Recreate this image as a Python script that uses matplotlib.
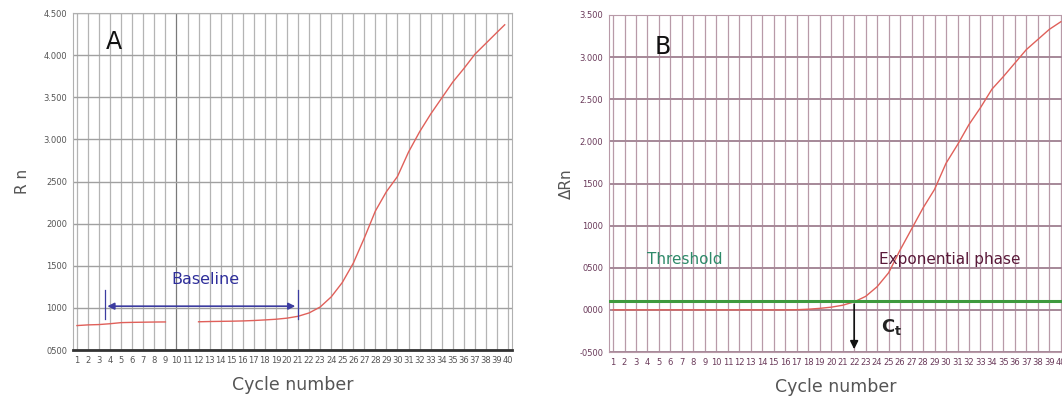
import numpy as np
import matplotlib.pyplot as plt

# data
cycles = list(range(1, 40)) + [39.7]
rn = [790, 798, 802, 812, 825, 828, 830, 832, 833, np.nan,
      np.nan, 835, 838, 840, 842, 845, 850, 857, 865, 878,
      900, 940, 1010, 1130, 1300, 1530, 1830, 2150, 2380, 2560,
      2850, 3090, 3300, 3490, 3680, 3840, 4010, 4140, 4270, 4360]

cycles_b = list(range(1, 41))
drn = [0, 0, 0, 0, 0, 0, 0, 0, 0, 0,
       0, 0, 0, 0, 0, 0, 2, 8, 18, 32,
       55, 95, 160, 275, 440, 710, 960, 1210, 1430, 1740,
       1960, 2200, 2400, 2620, 2770, 2930, 3090, 3210, 3330, 3420]

threshold = 100
ct = 22
baseline_start, baseline_end = 3.5, 21

xlabels = [str(i) for i in range(1, 40)] + ['40']
ylabels_a = ['0500', '1000', '1500', '2000', '2500', '3.000', '3.500', '4.000', '4.500']
ylabels_b = ['-0500', '0000', '0500', '1000', '1500', '2.000', '2.500', '3.000', '3.500']

fig = plt.figure(figsize=(10.62, 4.01), dpi=100)
W, H = 1062, 401
axA = fig.add_axes([73 / W, 1 - 350 / H, (512 - 73) / W, (350 - 13) / H])
axB = fig.add_axes([609 / W, 1 - 352 / H, (1062 - 609) / W, (352 - 15) / H])

# panel A
gridA = '#b4b4b4'
for c in range(1, 41):
    axA.axvline(c, color='#7a7a7a' if c == 10 else gridA, lw=0.9, zorder=0)
for v in range(500, 4501, 500):
    axA.axhline(v, color='#a0a0a0', lw=1.0, zorder=0)
axA.plot(cycles, rn, color='#e0605a', lw=1.0)
axA.set_xlim(0.64, 40.36)
axA.set_ylim(500, 4500)
axA.set_xticks(range(1, 41))
axA.set_xticklabels(xlabels, fontsize=6, color='#555555')
axA.set_yticks(range(500, 4501, 500))
axA.set_yticklabels(ylabels_a, fontsize=6, color='#555555')
axA.tick_params(length=0, pad=4)
for s in ['top', 'right', 'left']:
    axA.spines[s].set_color('#b0b0b0')
axA.spines['bottom'].set_color('#333333')
axA.spines['bottom'].set_linewidth(2)
axA.set_xlabel('Cycle number', fontsize=12.5, color='#555555', labelpad=8)
axA.set_ylabel('R n', fontsize=11, color='#555555', labelpad=10)
axA.text(4.3, 4150, 'A', fontsize=17, ha='center', va='center', color='#111111')
axA.annotate('', xy=(baseline_start, 1020), xytext=(baseline_end, 1020),
             arrowprops=dict(arrowstyle='<|-|>', color='#3c3ca0', lw=1.2,
                             mutation_scale=10))
for x0 in [baseline_start, baseline_end]:
    axA.plot([x0, x0], [870, 1210], color='#3c3ca0', lw=0.9)
axA.text(12.6, 1340, 'Baseline', fontsize=11.5, color='#2e2e9a', ha='center',
         va='center')

# panel B
gridB = '#b89aa8'
for c in range(1, 41):
    axB.axvline(c, color=gridB, lw=0.9, zorder=0)
for v in range(-500, 3501, 500):
    axB.axhline(v, color='#a58898', lw=1.4, zorder=0)
axB.plot(cycles_b, drn, color='#e0605a', lw=1.0)
axB.axhline(threshold, color='#3e9a3e', lw=2.2, zorder=3)
axB.annotate('', xy=(ct, -500), xytext=(ct, threshold),
             arrowprops=dict(arrowstyle='-|>', color='#111111', lw=1.2,
                             mutation_scale=12), zorder=4)
axB.set_xlim(0.65, 40.1)
axB.set_ylim(-500, 3500)
axB.set_xticks(range(1, 41))
axB.set_xticklabels(xlabels, fontsize=6, color='#6a3a5a')
axB.set_yticks(range(-500, 3501, 500))
axB.set_yticklabels(ylabels_b, fontsize=6, color='#6a3a5a')
axB.tick_params(length=0, pad=4)
for s in axB.spines.values():
    s.set_color('#b89aa8')
axB.set_xlabel('Cycle number', fontsize=12.5, color='#555555', labelpad=8)
axB.set_ylabel('ΔRn', fontsize=11, color='#555555', labelpad=4)
axB.text(5.3, 3120, 'B', fontsize=17, ha='center', va='center', color='#111111')
axB.text(4.0, 600, 'Threshold', fontsize=11, color='#2e8a6a', ha='left',
         va='center')
axB.text(24.2, 600, 'Exponential phase', fontsize=11, color='#5a1a3a',
         ha='left', va='center')
axB.text(24.3, -200, 'C$_\\mathregular{t}$', fontsize=13, color='#222222',
         ha='left', va='center', fontweight='bold')

fig.savefig('out.png', dpi=100)
